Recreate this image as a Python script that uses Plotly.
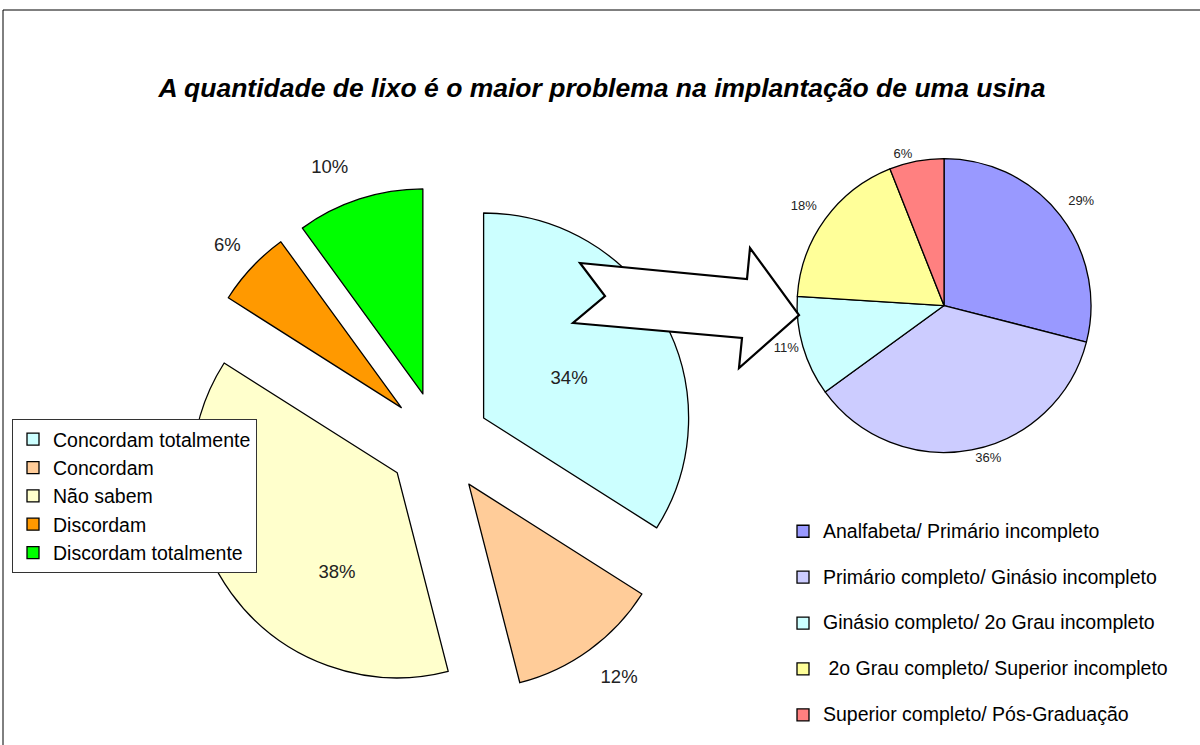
import plotly.graph_objects as go

# ---------------- data ----------------
opinion_labels = ["Concordam totalmente", "Concordam", "Não sabem", "Discordam", "Discordam totalmente"]
opinion_values = [34, 12, 38, 6, 10]
opinion_colors = ["#CCFFFF", "#FFCC99", "#FFFFCC", "#FF9900", "#00FF00"]
opinion_textpos = ["inside", "outside", "inside", "outside", "outside"]

school_labels = [
    "Analfabeta/ Primário incompleto",
    "Primário completo/ Ginásio incompleto",
    "Ginásio completo/ 2o Grau incompleto",
    "\u00a02o Grau completo/ Superior incompleto",
    "Superior completo/ Pós-Graduação",
]
school_values = [29, 36, 11, 18, 6]
school_colors = ["#9999FF", "#CCCCFF", "#CCFFFF", "#FFFF99", "#FF8080"]

title_text = "A quantidade de lixo é o maior problema na implantação de uma usina"

# ---------------- styling helpers ----------------
W, H = 1200, 745
FONT = "Liberation Sans, Arial, sans-serif"
NB = "\u00a0"

# label padding (text layout only) so that labels sit where the original puts them
opinion_tpl = [
    NB + "<br>%{percent}" + NB * 4,
    NB + "<br>%{percent}",
    (NB + "<br>") * 3 + NB * 10 + "%{percent}",
    "%{percent}<br>" + NB,
    "%{percent}<br>" + NB,
]
school_tpl = [
    "%{percent}<br>" + NB,
    "%{percent}",
    "%{percent}",
    "%{percent}<br>" + NB,
    "%{percent}",
]


def px(x):
    return x / W


def py(y):
    return 1 - y / H


fig = go.Figure()

fig.add_trace(go.Pie(
    labels=opinion_labels,
    values=opinion_values,
    sort=False,
    direction="clockwise",
    rotation=0,
    pull=0.25,
    marker=dict(colors=opinion_colors, line=dict(color="black", width=1.3)),
    texttemplate=opinion_tpl,
    textposition=opinion_textpos,
    insidetextorientation="horizontal",
    textfont=dict(family=FONT, size=18.5, color="#222222"),
    domain=dict(x=[0.15204, 0.57913], y=[0.06181, 0.74973]),
    legend="legend",
    hoverinfo="label+percent",
))

school_legend_text = ['<span style="font-size:19.5px">' + s + "</span><br>" + NB for s in school_labels]

fig.add_trace(go.Pie(
    labels=school_legend_text,
    values=school_values,
    sort=False,
    direction="clockwise",
    rotation=0,
    marker=dict(colors=school_colors, line=dict(color="black", width=1.3)),
    texttemplate=school_tpl,
    textposition="outside",
    textfont=dict(family=FONT, size=13, color="#222222"),
    domain=dict(x=[0.6642, 0.9092], y=[0.3926, 0.7872]),
    legend="legend2",
    hoverinfo="percent",
))

# decorative block arrow and frame
arrow_pts = [(580, 263), (747, 279), (750, 248), (799, 315), (739, 368), (742, 338), (573, 323), (605, 296)]
path = "M " + " L ".join(f"{px(x):.5f},{py(y):.5f}" for x, y in arrow_pts) + " Z"

fig.update_layout(
    width=W,
    height=H,
    margin=dict(l=0, r=0, t=0, b=0, pad=0, autoexpand=False),
    paper_bgcolor="white",
    plot_bgcolor="white",
    font=dict(family=FONT, color="black"),
    title=dict(
        text=title_text,
        x=px(602), xanchor="center",
        y=py(88), yanchor="middle",
        font=dict(family=FONT, size=26.5, color="black", weight="bold", style="italic"),
    ),
    legend=dict(
        x=px(12), xanchor="left", y=py(419), yanchor="top",
        bgcolor="white", bordercolor="#333333", borderwidth=1,
        font=dict(family=FONT, size=19.5, color="black"),
        traceorder="normal",
    ),
    legend2=dict(
        x=px(783), xanchor="left", y=py(514), yanchor="top",
        bgcolor="rgba(0,0,0,0)", borderwidth=0,
        font=dict(family=FONT, size=16.5, color="black"),
        valign="top",
        traceorder="normal",
    ),
    shapes=[
        dict(type="rect", xref="paper", yref="paper", x0=px(3), y0=py(10), x1=px(1210), y1=py(760),
             line=dict(color="black", width=1), fillcolor="rgba(0,0,0,0)", layer="below"),
        dict(type="path", xref="paper", yref="paper", path=path,
             line=dict(color="black", width=2.2), fillcolor="white", layer="above"),
    ],
)

fig.write_html("out.html", config={"displayModeBar": False},
               post_script="document.body.style.margin='0';document.body.style.overflow='hidden';")
